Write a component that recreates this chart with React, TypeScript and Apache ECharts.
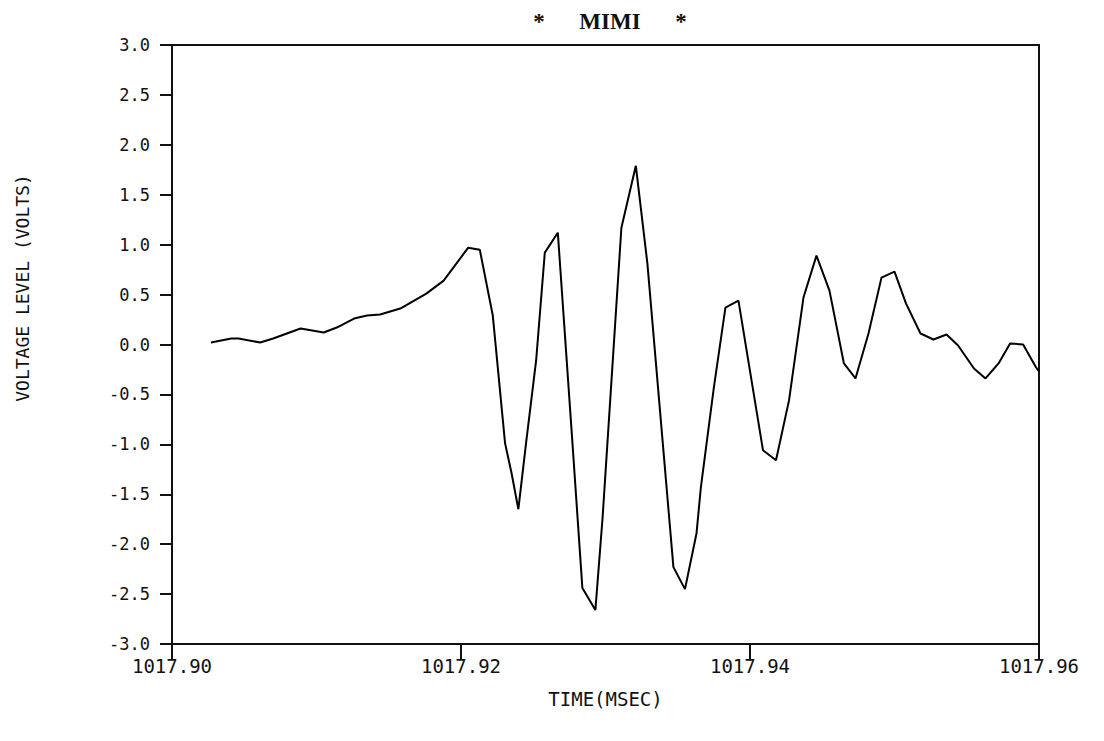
import React, { useEffect, useRef } from "react";
import * as echarts from "echarts";

// time (ms) of each sample and the measured voltage (V)
const times: number[] = [
  1017.9027, 1017.9041, 1017.9046, 1017.9061, 1017.907, 1017.9089, 1017.9105, 1017.9114,
  1017.9126, 1017.9135, 1017.9144, 1017.9158, 1017.9176, 1017.9188, 1017.9205, 1017.9213,
  1017.9222, 1017.92305, 1017.9235, 1017.92397, 1017.9245, 1017.9252, 1017.9258, 1017.9267,
  1017.9277, 1017.9284, 1017.9293, 1017.9298, 1017.9311, 1017.9321, 1017.9329, 1017.9347,
  1017.9355, 1017.9363, 1017.9366, 1017.9375, 1017.9383, 1017.9392, 1017.9409, 1017.9418,
  1017.9427, 1017.9437, 1017.9446, 1017.9455, 1017.9465, 1017.9473, 1017.9482, 1017.9491,
  1017.95, 1017.9508, 1017.9518, 1017.9527, 1017.9536, 1017.9544, 1017.9555, 1017.9563,
  1017.9572, 1017.958, 1017.9589, 1017.9598, 1017.96,
];
const volts: number[] = [
  0.02, 0.06, 0.06, 0.02, 0.06, 0.16, 0.12, 0.17,
  0.26, 0.29, 0.3, 0.36, 0.51, 0.64, 0.97, 0.95,
  0.29, -0.99, -1.29, -1.65, -0.99, -0.16, 0.92, 1.12,
  -0.96, -2.44, -2.66, -1.73, 1.17, 1.79, 0.81, -2.23,
  -2.45, -1.89, -1.43, -0.43, 0.37, 0.44, -1.06, -1.16,
  -0.56, 0.47, 0.89, 0.54, -0.19, -0.34, 0.11, 0.67,
  0.73, 0.41, 0.11, 0.05, 0.1, -0.01, -0.24, -0.34,
  -0.19, 0.01, 0.0, -0.23, -0.27,
];
const xTicks: number[] = [1017.9, 1017.92, 1017.94, 1017.96];
const title = "*      MIMI      *";
const xName = "TIME(MSEC)";
const yName = "VOLTAGE LEVEL (VOLTS)";

export default function App() {
  const ref = useRef<HTMLDivElement>(null);
  useEffect(() => {
    if (!ref.current) return;
    const chart = echarts.init(ref.current, undefined, { renderer: "svg" });
    const data = times.map((t, i) => [t, volts[i]]);
    const labelFont = "DejaVu Sans Mono";
    chart.setOption({
      animation: false,
      backgroundColor: "#ffffff",
      title: {
        text: title,
        left: 605,
        top: 5,
        textAlign: "center",
        textStyle: { fontFamily: "Liberation Serif", fontSize: 23, fontWeight: "bold", color: "#111" },
      },
      grid: { left: 172, right: 65, top: 45, bottom: 97, show: false },
      xAxis: {
        type: "value",
        min: 1017.9,
        max: 1017.96,
        interval: 0.02,
        name: xName,
        nameLocation: "middle",
        nameGap: 45,
        nameTextStyle: { fontFamily: labelFont, fontSize: 19, color: "#111" },
        axisLine: { show: true, onZero: false, lineStyle: { color: "#111", width: 2 } },
        axisTick: { show: true, inside: false, length: 16, lineStyle: { color: "#111", width: 2 } },
        axisLabel: {
          margin: 12,
          fontFamily: labelFont,
          fontSize: 19,
          color: "#111",
          formatter: (v: number) => {
            const m = xTicks.find((t) => Math.abs(t - v) < 1e-6);
            return m !== undefined ? m.toFixed(2) : "";
          },
        },
        splitLine: { show: false },
      },
      yAxis: {
        type: "value",
        min: -3,
        max: 3,
        interval: 0.5,
        axisLine: { show: true, onZero: false, lineStyle: { color: "#111", width: 2 } },
        axisTick: { show: true, inside: false, length: 12, lineStyle: { color: "#111", width: 2 } },
        axisLabel: {
          margin: 22,
          fontFamily: labelFont,
          fontSize: 17,
          color: "#111",
          formatter: (v: number) => v.toFixed(1),
        },
        splitLine: { show: false },
      },
      graphic: [
        {
          type: "rect",
          shape: { x: 172, y: 45, width: 1104 - 172 - 65, height: 741 - 45 - 97 },
          style: { fill: "none", stroke: "#111", lineWidth: 2 },
          silent: true,
        },
        {
          type: "text",
          x: 22,
          y: 288,
          rotation: Math.PI / 2,
          style: {
            text: yName,
            fontFamily: labelFont,
            fontSize: 18,
            fill: "#111",
            align: "center",
            verticalAlign: "middle",
          },
        },
      ],
      series: [
        {
          type: "line",
          data,
          showSymbol: false,
          symbol: "none",
          lineStyle: { color: "#000", width: 2 },
        },
      ],
    });
    return () => chart.dispose();
  }, []);
  return (
    <div
      ref={ref}
      style={{ position: "absolute", left: 0, top: 0, width: 1104, height: 741, background: "#fff" }}
    />
  );
}
